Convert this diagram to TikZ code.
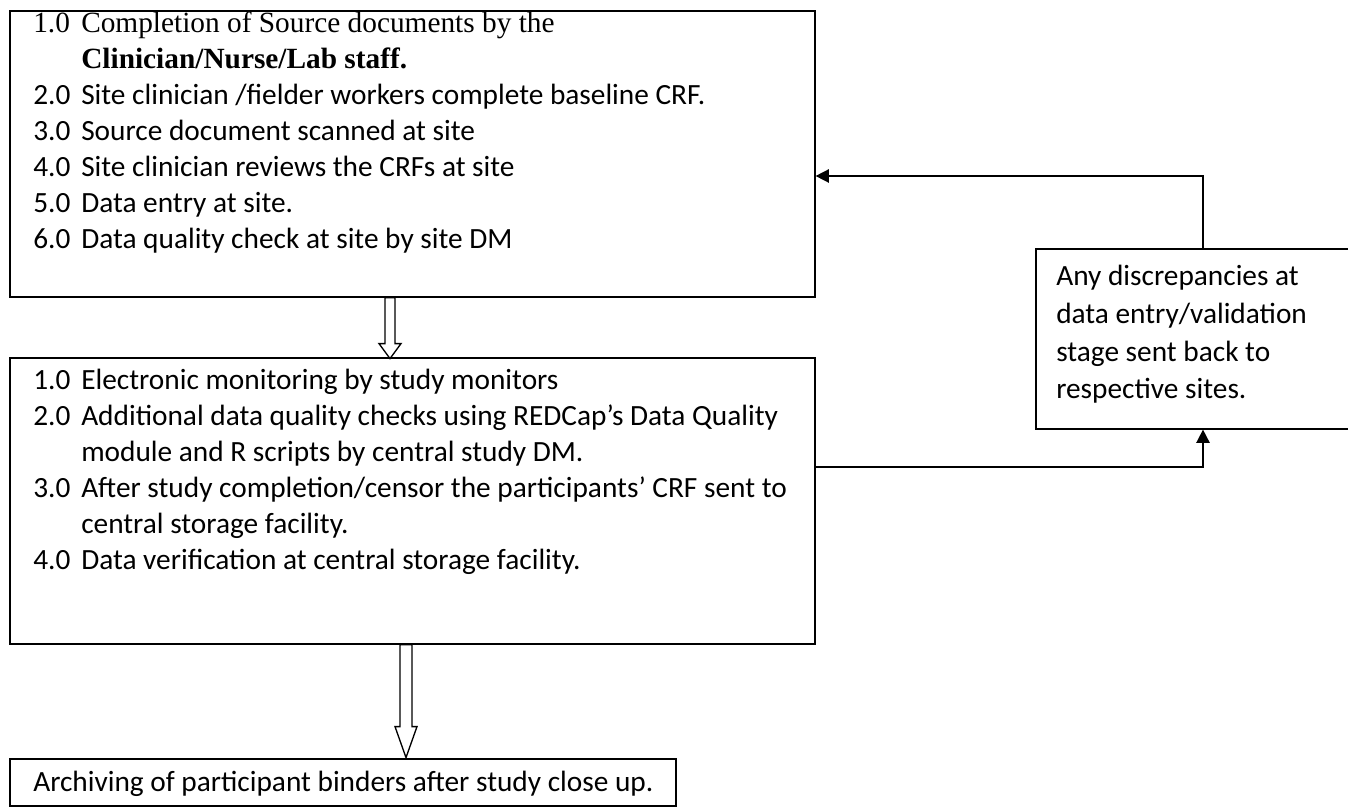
\documentclass[tikz,border=0pt]{standalone}
\usepackage{fontspec}
\setmainfont{Carlito}
\newfontfamily\timesfont{Liberation Serif}
\usetikzlibrary{arrows.meta,calc}
\newcommand\itemnum[1]{\makebox[36pt][l]{#1}}
\begin{document}
\begin{tikzpicture}[x=0.75pt,y=-0.75pt,
  box/.style={draw, line width=1.2pt, rectangle, inner sep=0pt, anchor=north west},
  txt/.style={anchor=base west, align=left, inner sep=0pt},
  link/.style={line width=1.2pt, -{Triangle[length=10pt,width=10pt]}},
  hollow/.style={draw, line width=1pt, fill=white, line join=miter}]
\useasboundingbox (0,0) rectangle (1348,812);

% boxes
\node[box, minimum width=603.75pt, minimum height=214.5pt] (b1) at (9,10) {};
\node[box, minimum width=603.75pt, minimum height=214.5pt] (b2) at (9,357) {};
\node[box, minimum width=499.5pt, minimum height=35.25pt] (b3) at (9,758) {};
\node[box, minimum width=238.5pt, minimum height=135pt] (b4) at (1035,248) {};

% texts (anchored at the baseline of the last line)
\node[txt, font=\fontsize{22}{27}\selectfont] (t1) at (33,249) {{\timesfont\itemnum{1.0}Completion of Source documents by the}\\
{\timesfont\bfseries\hspace*{36pt}Clinician/Nurse/Lab staff.}\\
\itemnum{2.0}Site clinician /fielder workers complete baseline CRF.\\
\itemnum{3.0}Source document scanned at site\\
\itemnum{4.0}Site clinician reviews the CRFs at site\\
\itemnum{5.0}Data entry at site.\\
\itemnum{6.0}Data quality check at site by site DM};

\node[txt, font=\fontsize{22}{27}\selectfont] (t2) at (33,569) {\itemnum{1.0}Electronic monitoring by study monitors\\
\itemnum{2.0}Additional data quality checks using REDCap’s Data Quality\\
\hspace*{36pt}module and R scripts by central study DM.\\
\itemnum{3.0}After study completion/censor the participants’ CRF sent to\\
\hspace*{36pt}central storage facility.\\
\itemnum{4.0}Data verification at central storage facility.};

\node[txt, font=\fontsize{22}{27}\selectfont] (t3) at (33,791) {Archiving of participant binders after study close up.};

\node[txt, font=\fontsize{22}{28.3}\selectfont] (t4) at (1056,399) {Any discrepancies at\\ data entry/validation\\ stage sent back to\\ respective sites.};

% hollow arrows
\draw[hollow] (b1.south west) ++(376,0) -- ++(0,46) -- ++(-6,0) -- ++(11,15) -- ++(11,-15) -- ++(-6,0) -- ++(0,-46) -- cycle;
\draw[hollow] (b2.south west) ++(391,0) -- ++(0,82) -- ++(-5,0) -- ++(11,31) -- ++(11,-31) -- ++(-5,0) -- ++(0,-82) -- cycle;

% feedback connectors
\coordinate (fb) at (1203,176);
\coordinate (lo) at (814,467);
\draw[link] (b4.north -| fb) |- (b1.east |- fb);
\draw[link] (b2.east |- lo) -| (b4.south -| fb);
\end{tikzpicture}
\end{document}
